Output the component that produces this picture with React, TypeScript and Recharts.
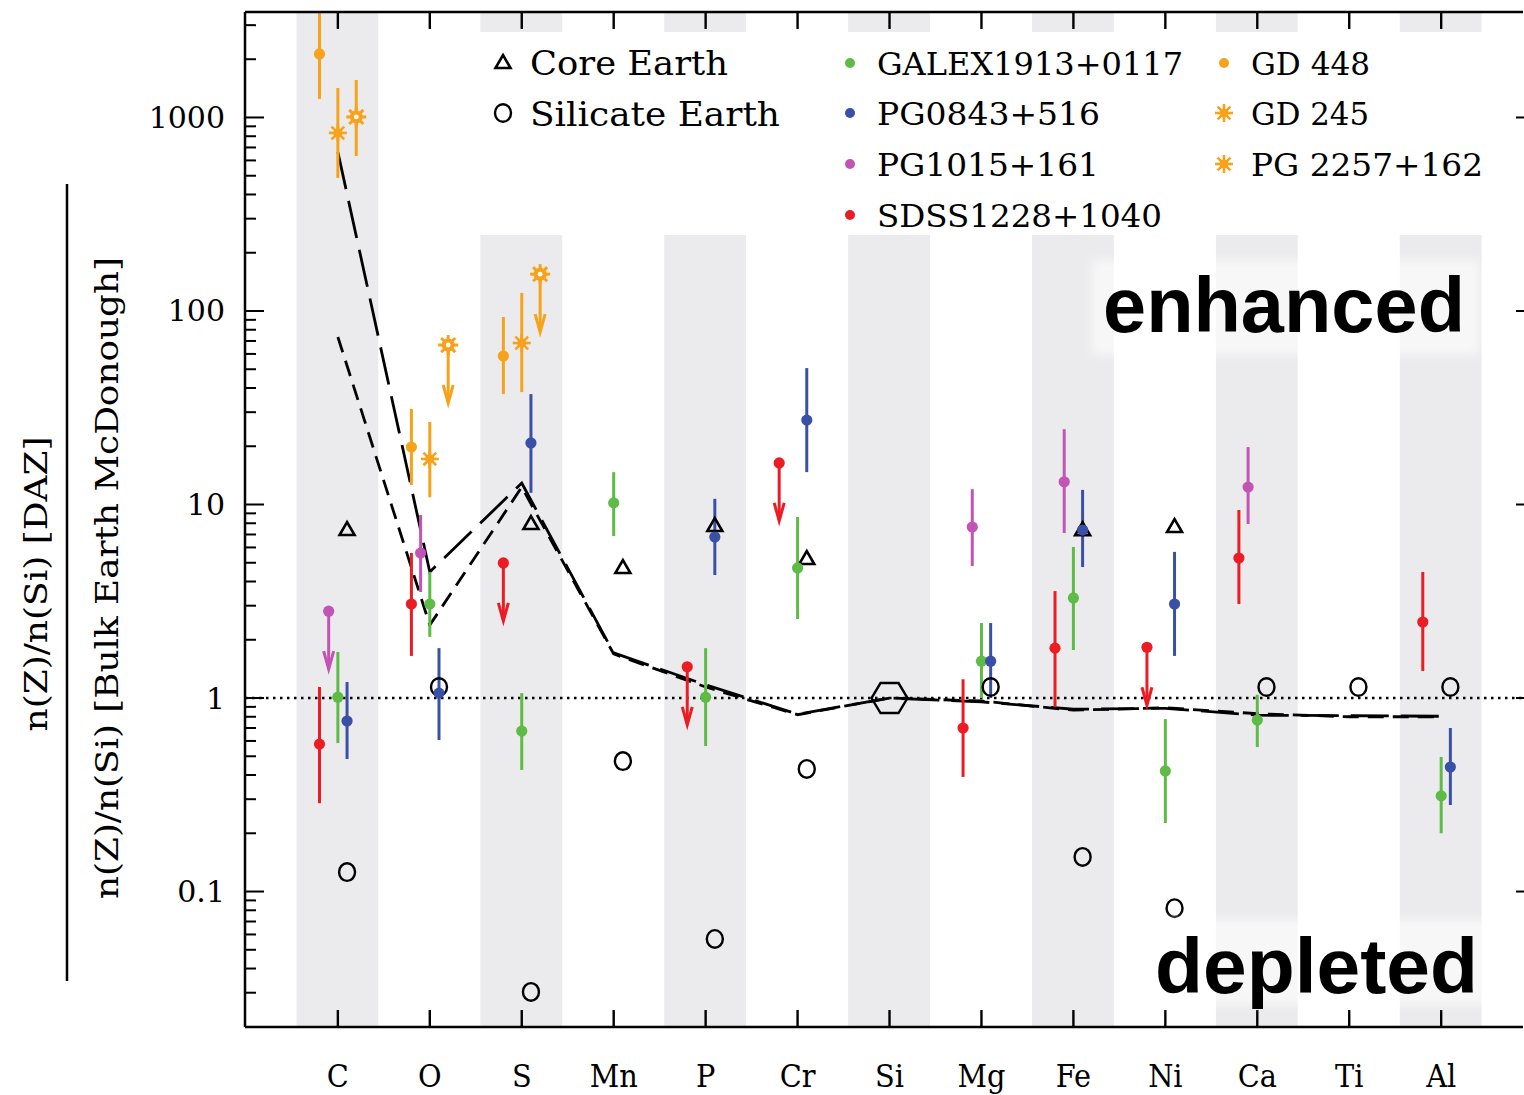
import React from 'react';
import { ComposedChart, Line, Scatter, ErrorBar, XAxis, YAxis, ReferenceArea, ReferenceLine } from 'recharts';

// element order along the x axis
const elements = ['C', 'O', 'S', 'Mn', 'P', 'Cr', 'Si', 'Mg', 'Fe', 'Ni', 'Ca', 'Ti', 'Al'];
const bandElements = ['C', 'S', 'P', 'Si', 'Fe', 'Ca', 'Al'];

const yMajorTicks = [0.1, 1, 10, 100, 1000];
const yMinorTicks = [
  0.03, 0.04, 0.05, 0.06, 0.07, 0.08, 0.09,
  0.2, 0.3, 0.4, 0.5, 0.6, 0.7, 0.8, 0.9,
  2, 3, 4, 5, 6, 7, 8, 9,
  20, 30, 40, 50, 60, 70, 80, 90,
  200, 300, 400, 500, 600, 700, 800, 900,
  2000, 3000,
];

// two model curves (dashed lines), one value per element
const modelLong = [663, 4.48, 12.9, 1.71, 1.17, 0.825, 1.0, 0.955, 0.875, 0.885, 0.815, 0.81, 0.805];
const modelShort = [73.4, 2.38, 12.3, 1.69, 1.14, 0.82, 1.0, 0.965, 0.865, 0.89, 0.83, 0.8, 0.8];

type Obs = { el: string; v: number; lo?: number; hi?: number; limit?: boolean };

const coreEarth: Obs[] = [
  { el: 'C', v: 7.47 }, { el: 'S', v: 8.02 }, { el: 'Mn', v: 4.75 }, { el: 'P', v: 7.83 },
  { el: 'Cr', v: 5.29 }, { el: 'Fe', v: 7.45 }, { el: 'Ni', v: 7.74 },
];
const silicateEarth: Obs[] = [
  { el: 'C', v: 0.126 }, { el: 'O', v: 1.14 }, { el: 'S', v: 0.0303 }, { el: 'Mn', v: 0.472 },
  { el: 'P', v: 0.0569 }, { el: 'Cr', v: 0.43 }, { el: 'Mg', v: 1.14 }, { el: 'Fe', v: 0.151 },
  { el: 'Ni', v: 0.082 }, { el: 'Ca', v: 1.14 }, { el: 'Ti', v: 1.14 }, { el: 'Al', v: 1.14 },
];
const siReference: Obs[] = [{ el: 'Si', v: 1 }];

const galex: Obs[] = [
  { el: 'C', v: 1.01, lo: 0.585, hi: 1.73 },
  { el: 'O', v: 3.06, lo: 2.07, hi: 4.48 },
  { el: 'S', v: 0.675, lo: 0.425, hi: 1.06 },
  { el: 'Mn', v: 10.2, lo: 6.87, hi: 14.7 },
  { el: 'P', v: 1.01, lo: 0.565, hi: 1.81 },
  { el: 'Cr', v: 4.7, lo: 2.56, hi: 8.62 },
  { el: 'Mg', v: 1.55, lo: 1.0, hi: 2.44 },
  { el: 'Fe', v: 3.29, lo: 1.77, hi: 6.03 },
  { el: 'Ni', v: 0.42, lo: 0.226, hi: 0.778 },
  { el: 'Ca', v: 0.77, lo: 0.558, hi: 1.04 },
  { el: 'Al', v: 0.312, lo: 0.2, hi: 0.496 },
];
const pg0843: Obs[] = [
  { el: 'C', v: 0.76, lo: 0.484, hi: 1.21 },
  { el: 'O', v: 1.06, lo: 0.607, hi: 1.81 },
  { el: 'S', v: 20.8, lo: 11.5, hi: 37.2 },
  { el: 'P', v: 6.79, lo: 4.32, hi: 10.7 },
  { el: 'Cr', v: 27.3, lo: 14.7, hi: 50.7 },
  { el: 'Mg', v: 1.55, lo: 1.0, hi: 2.44 },
  { el: 'Fe', v: 7.38, lo: 4.75, hi: 11.9 },
  { el: 'Ni', v: 3.06, lo: 1.65, hi: 5.69 },
  { el: 'Al', v: 0.44, lo: 0.28, hi: 0.7 },
];
const pg1015: Obs[] = [
  { el: 'C', v: 2.81, limit: true },
  { el: 'O', v: 5.61, lo: 3.53, hi: 8.83 },
  { el: 'Mg', v: 7.65, lo: 4.81, hi: 12.0 },
  { el: 'Fe', v: 13.1, lo: 7.12, hi: 24.5 },
  { el: 'Ca', v: 12.3, lo: 7.93, hi: 19.8 },
];
const sdss1228: Obs[] = [
  { el: 'C', v: 0.578, lo: 0.286, hi: 1.14 },
  { el: 'O', v: 3.06, lo: 1.65, hi: 5.62 },
  { el: 'S', v: 4.99, limit: true },
  { el: 'P', v: 1.45, limit: true },
  { el: 'Cr', v: 16.4, limit: true },
  { el: 'Mg', v: 0.7, lo: 0.391, hi: 1.25 },
  { el: 'Fe', v: 1.81, lo: 0.898, hi: 3.57 },
  { el: 'Ni', v: 1.83, limit: true },
  { el: 'Ca', v: 5.29, lo: 3.06, hi: 9.37 },
  { el: 'Al', v: 2.47, lo: 1.38, hi: 4.48 },
];
const gd448: Obs[] = [
  { el: 'C', v: 2130, lo: 1247, hi: 3500 },
  { el: 'O', v: 19.8, lo: 12.6, hi: 31.2 },
  { el: 'S', v: 58.5, lo: 37.2, hi: 93.1 },
];
const gd245: Obs[] = [
  { el: 'C', v: 832, lo: 487, hi: 1420 },
  { el: 'O', v: 17.2, lo: 10.9, hi: 26.7 },
  { el: 'S', v: 68.3, lo: 38.1, hi: 124 },
];
const pg2257: Obs[] = [
  { el: 'C', v: 1006, lo: 632, hi: 1563 },
  { el: 'O', v: 66.7, limit: true },
  { el: 'S', v: 155, limit: true },
];

// ---- styles / layout ----
const GREEN = '#5dbb46';
const BLUE = '#3a50a6';
const MAGENTA = '#c255b4';
const RED = '#ec1c24';
const ORANGE = '#f7a21b';
const BAND = '#ebebed';

const SERIF = "'DejaVu Serif', serif";
const COND = "'DejaVu Serif Condensed', 'DejaVu Serif', serif";
const SANS = "'Liberation Sans', Arial, sans-serif";

const W = 1524;
const H = 1095;
const PLOT = { left: 245, top: 12, right: 1523, bottom: 1027 };
const X_DOMAIN = [-1.01, 12.89];
const Y_DOMAIN = [0.01995, 3508];
const BAND_GAP = [247, 2767]; // bands are interrupted behind the legend
const BAND_HALF = [0.45, 0.44];

const stars = [
  { name: 'GD 448', data: gd448, color: ORANGE, marker: 'dot', offset: -0.2 },
  { name: 'GD 245', data: gd245, color: ORANGE, marker: 'asterisk', offset: 0 },
  { name: 'PG 2257+162', data: pg2257, color: ORANGE, marker: 'sun', offset: 0.2 },
  { name: 'SDSS1228+1040', data: sdss1228, color: RED, marker: 'dot', offset: -0.2 },
  { name: 'PG1015+161', data: pg1015, color: MAGENTA, marker: 'dot', offset: -0.1 },
  { name: 'GALEX1913+0117', data: galex, color: GREEN, marker: 'dot', offset: 0 },
  { name: 'PG0843+516', data: pg0843, color: BLUE, marker: 'dot', offset: 0.1 },
];

const modelRows = elements.map((el, i) => ({ x: i, longDash: modelLong[i], shortDash: modelShort[i] }));

const toPoints = (obs: Obs[], offset: number) =>
  obs.map((o) => ({
    x: elements.indexOf(o.el) + offset,
    y: o.v,
    err: o.lo != null && o.hi != null ? [o.v - o.lo, o.hi - o.v] : [0, 0],
    limit: !!o.limit,
  }));

const drawMarker = (kind: string, cx: number, cy: number, color: string) => {
  const rays = [0, 45, 90, 135].map((a) => (a * Math.PI) / 180);
  switch (kind) {
    case 'asterisk':
      return (
        <g>
          {rays.map((a, i) => (
            <line key={i} x1={cx - 9 * Math.cos(a)} y1={cy - 9 * Math.sin(a)} x2={cx + 9 * Math.cos(a)} y2={cy + 9 * Math.sin(a)} stroke={color} strokeWidth={2.6} />
          ))}
          <circle cx={cx} cy={cy} r={4.5} fill={color} />
        </g>
      );
    case 'sun':
      return (
        <g>
          {rays.map((a, i) => (
            <line key={i} x1={cx - 10 * Math.cos(a)} y1={cy - 10 * Math.sin(a)} x2={cx + 10 * Math.cos(a)} y2={cy + 10 * Math.sin(a)} stroke={color} strokeWidth={3} />
          ))}
          <circle cx={cx} cy={cy} r={6.5} fill={color} />
          <circle cx={cx} cy={cy} r={2.4} fill="#fff" />
        </g>
      );
    case 'triangle':
      return <polygon points={`${cx - 7.5},${cy + 6} ${cx + 7.5},${cy + 6} ${cx},${cy - 7}`} fill="none" stroke="#000" strokeWidth={2.6} strokeLinejoin="miter" />;
    case 'circle':
      return <ellipse cx={cx} cy={cy} rx={8} ry={8.8} fill="none" stroke="#000" strokeWidth={2.4} />;
    case 'hexagon':
      return (
        <polygon
          points={`${cx - 18},${cy} ${cx - 9},${cy - 15} ${cx + 9},${cy - 15} ${cx + 18},${cy} ${cx + 9},${cy + 15} ${cx - 9},${cy + 15}`}
          fill="none" stroke="#000" strokeWidth={2.4}
        />
      );
    default:
      return <circle cx={cx} cy={cy} r={5.6} fill={color} />;
  }
};

const markerShape = (kind: string, color: string) => (p: any) => {
  const { cx, cy, payload } = p;
  if (cx == null || cy == null) return <g />;
  return (
    <g>
      {payload && payload.limit && (
        <g stroke={color} strokeWidth={3} fill="none">
          <line x1={cx} y1={cy} x2={cx} y2={cy + 57} />
          <polyline points={`${cx - 5},${cy + 40} ${cx},${cy + 58} ${cx + 5},${cy + 40}`} />
        </g>
      )}
      {drawMarker(kind, cx, cy, color)}
    </g>
  );
};

const LeftTick = (p: any) => {
  const { y, payload } = p;
  const major = yMajorTicks.includes(payload.value);
  return (
    <g>
      <line x1={PLOT.left} y1={y} x2={PLOT.left + (major ? 19 : 11)} y2={y} stroke="#000" strokeWidth={2} />
      {major && (
        <text x={PLOT.left - 20} y={y} textAnchor="end" dominantBaseline="central" fontFamily={SERIF} fontSize={30} fill="#000">
          {String(payload.value)}
        </text>
      )}
    </g>
  );
};

const RightTick = (p: any) => (
  <line x1={W} y1={p.y} x2={W - 8} y2={p.y} stroke="#000" strokeWidth={2} />
);

const TopTick = (p: any) => (
  <line x1={p.x} y1={PLOT.top} x2={p.x} y2={PLOT.top + 17} stroke="#000" strokeWidth={2.4} />
);

const BottomTick = (p: any) => (
  <g>
    <line x1={p.x} y1={PLOT.bottom} x2={p.x} y2={PLOT.bottom - 17} stroke="#000" strokeWidth={2.4} />
    <text x={p.x} y={1087} textAnchor="middle" fontFamily={COND} fontSize={32} fill="#000">
      {elements[p.payload.value]}
    </text>
  </g>
);

const legendLeft = [
  { label: 'Core Earth', marker: 'triangle', color: '#000', y: 62, len: 198 },
  { label: 'Silicate Earth', marker: 'circle', color: '#000', y: 113, len: 250 },
];
const legendRight = [
  { label: 'GALEX1913+0117', marker: 'dot', color: GREEN, x: 850, y: 63, len: 306 },
  { label: 'PG0843+516', marker: 'dot', color: BLUE, x: 850, y: 113, len: 223 },
  { label: 'PG1015+161', marker: 'dot', color: MAGENTA, x: 850, y: 164, len: 222 },
  { label: 'SDSS1228+1040', marker: 'dot', color: RED, x: 850, y: 215, len: 285 },
  { label: 'GD 448', marker: 'dot', color: ORANGE, x: 1224, y: 63, len: 119 },
  { label: 'GD 245', marker: 'asterisk', color: ORANGE, x: 1224, y: 113, len: 118 },
  { label: 'PG 2257+162', marker: 'asterisk', color: ORANGE, x: 1224, y: 164, len: 232 },
];

const Overlay = () => (
  <svg width={W} height={H} style={{ position: 'absolute', left: 0, top: 0, pointerEvents: 'none' }}>
    <defs>
      <filter id="soft" x="-10%" y="-20%" width="120%" height="140%">
        <feGaussianBlur stdDeviation="5" />
      </filter>
    </defs>
    {/* legend */}
    {legendLeft.map((l) => (
      <g key={l.label}>
        {drawMarker(l.marker, 503, l.y, l.color)}
        <text x={530} y={l.y + 13} fontFamily={SERIF} fontSize={33} textLength={l.len} lengthAdjust="spacingAndGlyphs" fill="#000">
          {l.label}
        </text>
      </g>
    ))}
    {legendRight.map((l) => (
      <g key={l.label}>
        {l.marker === 'dot' ? <circle cx={l.x} cy={l.y} r={5} fill={l.color} /> : drawMarker(l.marker, l.x, l.y, l.color)}
        <text x={l.x + 27} y={l.y + 12} fontFamily={COND} fontSize={31} textLength={l.len} lengthAdjust="spacingAndGlyphs" fill="#000">
          {l.label}
        </text>
      </g>
    ))}
    {/* enhanced / depleted labels on soft white boxes */}
    <rect x={1092} y={260} width={388} height={95} fill="#fff" opacity={0.6} filter="url(#soft)" />
    <rect x={1142} y={919} width={350} height={86} fill="#fff" opacity={0.6} filter="url(#soft)" />
    <text x={1103} y={332} fontFamily={SANS} fontWeight="bold" fontSize={77} textLength={362} lengthAdjust="spacingAndGlyphs" fill="#000">
      enhanced
    </text>
    <text x={1155} y={993} fontFamily={SANS} fontWeight="bold" fontSize={78} textLength={323} lengthAdjust="spacingAndGlyphs" fill="#000">
      depleted
    </text>
    {/* y-axis label as a fraction */}
    <text x={0} y={0} transform="translate(36,584) rotate(-90)" textAnchor="middle" dominantBaseline="central" fontFamily={COND} fontSize={31} textLength={295} lengthAdjust="spacingAndGlyphs" fill="#000">
      n(Z)/n(Si) [DAZ]
    </text>
    <line x1={67} y1={184} x2={67} y2={981} stroke="#000" strokeWidth={2.5} />
    <text x={0} y={0} transform="translate(107,578) rotate(-90)" textAnchor="middle" dominantBaseline="central" fontFamily={COND} fontSize={31} textLength={642} lengthAdjust="spacingAndGlyphs" fill="#000">
      n(Z)/n(Si) [Bulk Earth McDonough]
    </text>
  </svg>
);

export default function App() {
  const xTicks = elements.map((_, i) => i);
  const yTicks = [...yMinorTicks, ...yMajorTicks].sort((a, b) => a - b);
  const axisLine = { stroke: '#000', strokeWidth: 2.5 };

  return (
    <div style={{ position: 'absolute', left: 0, top: 0, width: W, height: H, background: '#fff' }}>
      <ComposedChart width={W} height={H} data={modelRows} margin={{ top: 0, right: 0, bottom: 0, left: 0 }}>
        <XAxis dataKey="x" type="number" domain={X_DOMAIN} allowDataOverflow ticks={xTicks} interval={0} height={H - PLOT.bottom}
          tick={<BottomTick />} tickLine={false} tickSize={0} tickMargin={0} axisLine={axisLine} />
        <XAxis xAxisId="top" orientation="top" dataKey="x" type="number" domain={X_DOMAIN} allowDataOverflow ticks={xTicks} interval={0} height={PLOT.top}
          tick={<TopTick />} tickLine={false} tickSize={0} tickMargin={0} axisLine={axisLine} />
        <YAxis type="number" scale="log" domain={Y_DOMAIN} allowDataOverflow ticks={yTicks} interval={0} width={PLOT.left}
          tick={<LeftTick />} tickLine={false} tickSize={0} tickMargin={0} axisLine={axisLine} />
        <YAxis yAxisId="right" orientation="right" type="number" scale="log" domain={Y_DOMAIN} allowDataOverflow ticks={yMajorTicks} interval={0} width={W - PLOT.right}
          tick={<RightTick />} tickLine={false} tickSize={0} tickMargin={0} axisLine={false} />

        {bandElements.map((el) => {
          const i = elements.indexOf(el);
          const x1 = i - BAND_HALF[0];
          const x2 = i + BAND_HALF[1];
          if (el === 'C') {
            return <ReferenceArea key={el} x1={x1} x2={x2} y1={Y_DOMAIN[0]} y2={Y_DOMAIN[1]} fill={BAND} fillOpacity={1} stroke="none" ifOverflow="hidden" />;
          }
          return [
            <ReferenceArea key={el + 'lo'} x1={x1} x2={x2} y1={Y_DOMAIN[0]} y2={BAND_GAP[0]} fill={BAND} fillOpacity={1} stroke="none" ifOverflow="hidden" />,
            <ReferenceArea key={el + 'hi'} x1={x1} x2={x2} y1={BAND_GAP[1]} y2={Y_DOMAIN[1]} fill={BAND} fillOpacity={1} stroke="none" ifOverflow="hidden" />,
          ];
        })}

        <ReferenceLine y={1} stroke="#000" strokeWidth={2.5} strokeDasharray="2.5 4.5" />

        <Line dataKey="longDash" type="linear" stroke="#000" strokeWidth={2.8} strokeDasharray="38 12" dot={false} activeDot={false} isAnimationActive={false} />
        <Line dataKey="shortDash" type="linear" stroke="#000" strokeWidth={2.8} strokeDasharray="16 9" dot={false} activeDot={false} isAnimationActive={false} />

        <Scatter name="Silicate Earth" data={toPoints(silicateEarth, 0.1)} dataKey="y" shape={markerShape('circle', '#000')} isAnimationActive={false} />
        <Scatter name="Core Earth" data={toPoints(coreEarth, 0.1)} dataKey="y" shape={markerShape('triangle', '#000')} isAnimationActive={false} />
        <Scatter name="Si" data={toPoints(siReference, 0)} dataKey="y" shape={markerShape('hexagon', '#000')} isAnimationActive={false} />

        {stars.map((s) => (
          <Scatter key={s.name} name={s.name} data={toPoints(s.data, s.offset)} dataKey="y" shape={markerShape(s.marker, s.color)} isAnimationActive={false}>
            <ErrorBar dataKey="err" direction="y" width={0} stroke={s.color} strokeWidth={3} />
          </Scatter>
        ))}
      </ComposedChart>
      <Overlay />
    </div>
  );
}
